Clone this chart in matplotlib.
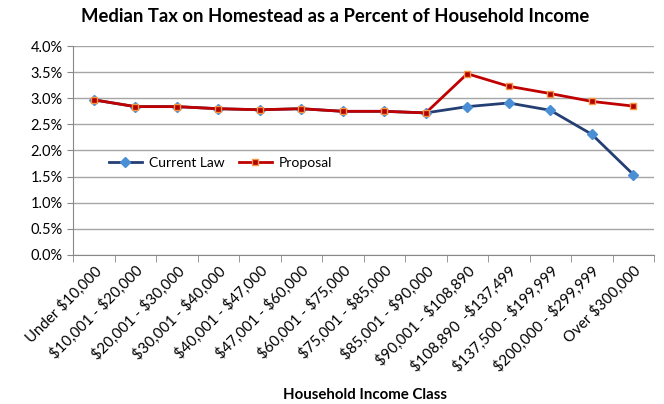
import matplotlib
matplotlib.use("Agg")
import matplotlib.pyplot as plt
import numpy as np
from matplotlib.ticker import FuncFormatter, FixedLocator

plt.rcParams['font.family'] = ['Lato', 'DejaVu Sans']
plt.rcParams['text.parse_math'] = False

categories = ["Under $10,000", "$10,001 - $20,000", "$20,001 - $30,000",
              "$30,001 - $40,000", "$40,001 - $47,000", "$47,001 - $60,000",
              "$60,001 - $75,000", "$75,001 - $85,000", "$85,001 - $90,000",
              "$90,001 - $108,890", "$108,890  -$137,499", "$137,500 - $199,999",
              "$200,000 - $299,999", "Over $300,000"]
current_law = [2.97, 2.84, 2.84, 2.80, 2.78, 2.80, 2.75, 2.75, 2.72,
               2.84, 2.91, 2.77, 2.31, 1.54]
proposal = [2.97, 2.84, 2.84, 2.80, 2.78, 2.80, 2.75, 2.75, 2.72,
            3.47, 3.23, 3.09, 2.94, 2.85]
y_ticks = [0.0, 0.5, 1.0, 1.5, 2.0, 2.5, 3.0, 3.5, 4.0]

fig = plt.figure(figsize=(6.64, 4.04), dpi=100)
ax = fig.add_axes([0.110, 0.369, 0.875, 0.517])

x = np.arange(len(categories))
ax.plot(x, current_law, color='#243F73', lw=2, marker='D', ms=5,
        mfc='#4A8FD6', mec='#4A8FD6', label='Current Law', zorder=3)
ax.plot(x, proposal, color='#C00000', lw=2, marker='s', ms=5,
        mfc='#B00000', mec='#F79646', mew=1, label='Proposal', zorder=4)

ax.set_xlim(-0.5, len(categories) - 0.5)
ax.set_ylim(0, 4.0)
ax.set_yticks(y_ticks)
ax.yaxis.set_major_formatter(FuncFormatter(lambda v, p: f"{v:.1f}%"))
ax.grid(axis='y', color='#A6A6A6', lw=1)
ax.set_axisbelow(True)

ax.set_xticks(x)
ax.set_xticklabels(categories, rotation=45, ha='right', rotation_mode='anchor',
                   fontsize=10.8)
ax.tick_params(axis='x', which='major', length=0, pad=6)
ax.xaxis.set_minor_locator(FixedLocator(np.arange(-0.5, len(categories), 1)))
ax.tick_params(axis='x', which='minor', length=5, color='#888888')
ax.tick_params(axis='y', length=4, color='#888888', labelsize=10.5)

for s in ['top', 'right']:
    ax.spines[s].set_visible(False)
for s in ['left', 'bottom']:
    ax.spines[s].set_color('#888888')

ax.legend(loc='upper left', bbox_to_anchor=(0.04, 0.53), ncol=2, frameon=False,
          fontsize=10, handlelength=2.4, handletextpad=0.5, columnspacing=1.0)

fig.text(0.505, 0.96, "Median Tax on Homestead as a Percent of Household Income",
         ha='center', va='center', fontsize=13.3, fontweight='bold')
fig.text(0.549, 0.022, "Household Income Class", ha='center', va='center',
         fontsize=10.8, fontweight='bold')

fig.savefig("out.png", dpi=100)
